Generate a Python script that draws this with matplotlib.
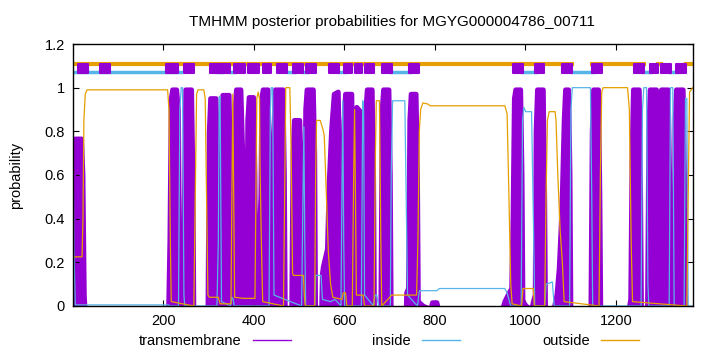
import matplotlib
matplotlib.use("Agg")
import numpy as np
import matplotlib.pyplot as plt
from matplotlib.lines import Line2D

plt.rcParams['font.family'] = ['Liberation Sans', 'DejaVu Sans']
plt.rcParams['font.size'] = 10.5

# sequence length and title
seq_len = 1370
title = "TMHMM posterior probabilities for MGYG000004786_00711"

# transmembrane posterior (position, probability)
tm_pos = [1, 3, 6, 20, 23, 26, 28,
          212, 215, 218, 221, 230, 234, 237, 239,
          245, 247, 250, 263, 266, 268,
          299, 302, 305, 317, 321, 323,
          327, 329, 332, 346, 349, 351,
          356, 359, 362, 372, 376, 378,
          384, 387, 390, 400, 403, 405,
          412, 413, 416, 418, 421, 432, 435, 437,
          443, 445, 448, 465, 468, 470,
          484, 487, 490, 502, 506, 508,
          512, 515, 518, 532, 535, 537,
          550, 552, 554, 563, 567, 572, 578, 587, 590, 592,
          597, 600, 603, 617, 620, 621, 623, 628, 636, 640, 642, 644,
          645, 648, 651, 662, 665, 667,
          681, 684, 687, 699, 702, 704,
          737, 738, 742, 745, 748, 759, 762, 764,
          790, 795, 805, 810,
          948, 955, 962, 970, 973, 976, 979, 990, 993, 995,
          1013, 1018, 1022, 1024, 1027, 1040, 1043, 1045,
          1062, 1070, 1075, 1079, 1082, 1086, 1089, 1096, 1099, 1101,
          1145, 1148, 1151, 1162, 1165, 1167,
          1228, 1233, 1236, 1239, 1252, 1255, 1257,
          1270, 1273, 1276, 1290, 1293, 1295,
          1296, 1298, 1301, 1316, 1319, 1321,
          1328, 1331, 1334, 1349, 1352, 1354, 1370]
tm_val = [0.02, 0.7, 0.765, 0.765, 0.6, 0.05, 0.0,
          0.0, 0.3, 0.95, 0.99, 0.99, 0.9, 0.05, 0.0,
          0.0, 0.5, 0.99, 0.99, 0.6, 0.0,
          0.0, 0.8, 0.95, 0.95, 0.7, 0.02,
          0.02, 0.8, 0.965, 0.965, 0.6, 0.02,
          0.0, 0.9, 0.99, 0.99, 0.7, 0.02,
          0.02, 0.85, 0.955, 0.955, 0.6, 0.02,
          0.0, 0.35, 0.5, 0.95, 0.99, 0.99, 0.7, 0.02,
          0.02, 0.8, 0.99, 0.99, 0.6, 0.0,
          0.0, 0.7, 0.85, 0.85, 0.6, 0.0,
          0.0, 0.9, 0.99, 0.99, 0.7, 0.0,
          0.0, 0.15, 0.18, 0.26, 0.57, 0.8, 0.97, 0.98, 0.7, 0.05,
          0.0, 0.85, 0.97, 0.97, 0.5, 0.45, 0.87, 0.91, 0.89, 0.8, 0.1, 0.0,
          0.0, 0.9, 0.99, 0.99, 0.6, 0.0,
          0.0, 0.9, 0.99, 0.99, 0.6, 0.0,
          0.0, 0.06, 0.08, 0.85, 0.97, 0.97, 0.6, 0.02,
          0.0, 0.015, 0.015, 0.0,
          0.0, 0.02, 0.05, 0.08, 0.4, 0.95, 0.99, 0.99, 0.6, 0.02,
          0.0, 0.02, 0.05, 0.8, 0.99, 0.99, 0.5, 0.0,
          0.0, 0.05, 0.17, 0.35, 0.52, 0.85, 0.99, 0.99, 0.6, 0.0,
          0.0, 0.8, 0.99, 0.99, 0.5, 0.0,
          0.0, 0.03, 0.7, 0.99, 0.99, 0.5, 0.0,
          0.0, 0.8, 0.99, 0.99, 0.5, 0.1,
          0.1, 0.8, 0.99, 0.99, 0.6, 0.0,
          0.0, 0.85, 0.99, 0.99, 0.6, 0.0, 0.0]

# inside posterior
in_pos = [1, 3, 6, 212, 215, 234, 237, 240, 243, 246, 248,
          319, 322, 324, 326, 329, 349, 352, 355, 357,
          434, 437, 439, 442, 445, 506, 509, 511, 513, 515,
          535, 537, 549, 552, 570, 580, 593, 595, 597, 599, 601,
          638, 641, 643, 645, 665, 668, 672, 676,
          702, 704, 707, 734, 737, 740, 762, 766, 805, 810, 955, 960, 968,
          991, 994, 997, 1001, 1014, 1018, 1021,
          1043, 1046, 1060, 1064, 1098, 1101, 1104, 1144, 1147, 1149,
          1256, 1259, 1262, 1268, 1271, 1273,
          1318, 1321, 1326, 1329, 1351, 1354, 1357, 1360, 1370]
in_val = [0.75, 0.25, 0.005, 0.005, 0.0, 0.0, 0.9, 1.0, 1.0, 0.05, 0.0,
          0.0, 0.3, 0.96, 0.96, 0.02, 0.0, 0.04, 0.03, 0.0,
          0.0, 0.9, 1.0, 1.0, 0.05, 0.0, 0.5, 0.82, 0.3, 0.0,
          0.0, 0.14, 0.14, 0.03, 0.02, 0.03, 0.0, 0.5, 0.94, 0.3, 0.0,
          0.0, 0.94, 0.9, 0.05, 0.0, 0.05, 0.05, 0.0,
          0.0, 0.6, 0.94, 0.94, 0.5, 0.05, 0.0, 0.07, 0.07, 0.08, 0.08, 0.06, 0.0,
          0.0, 0.85, 0.91, 0.89, 0.89, 0.4, 0.0,
          0.0, 0.1, 0.11, 0.0, 0.0, 0.9, 1.0, 1.0, 0.5, 0.0,
          0.0, 0.9, 1.0, 1.0, 0.1, 0.0,
          0.0, 1.0, 1.0, 0.0, 0.0, 0.95, 0.95, 0.0, 0.0]

# outside posterior
out_pos = [1, 21, 23, 25, 28, 32, 210, 213, 216, 218, 268, 271, 274, 277, 290, 293, 296, 299,
           302, 322, 326, 350, 352, 354, 356, 358, 377, 403, 405, 407, 410, 413, 414, 417, 420,
           466, 469, 471, 480, 483, 486, 488, 510, 512, 514,
           535, 537, 539, 547, 553, 556, 560, 565, 570, 575, 595, 598, 603, 606,
           618, 621, 623, 625, 627, 642, 645, 666, 669, 671, 678, 681, 683,
           705, 738, 760, 763, 766, 769, 774, 785, 790, 955, 960, 964, 968, 971,
           992, 995, 1018, 1020, 1043, 1046, 1049, 1053, 1066, 1068, 1072, 1077, 1082, 1086,
           1163, 1166, 1169, 1172, 1226, 1230, 1234, 1237, 1357, 1360, 1363, 1370]
out_val = [0.225, 0.225, 0.4, 0.85, 0.97, 0.99, 0.99, 0.9, 0.3, 0.02, 0.0, 0.5, 0.97, 0.99, 0.99, 0.95, 0.5, 0.05,
           0.04, 0.04, 0.01, 0.01, 0.5, 0.97, 0.5, 0.04, 0.035, 0.035, 0.5, 0.95, 0.98, 0.95, 0.66, 0.3, 0.02,
           0.0, 0.6, 1.0, 1.0, 0.7, 0.15, 0.14, 0.14, 0.05, 0.0,
           0.0, 0.6, 0.85, 0.85, 0.81, 0.78, 0.55, 0.25, 0.1, 0.04, 0.03, 0.06, 0.06, 0.0,
           0.0, 0.6, 0.9, 0.5, 0.05, 0.05, 0.0, 0.0, 0.7, 0.94, 0.94, 0.3, 0.0,
           0.05, 0.05, 0.05, 0.3, 0.8, 0.9, 0.93, 0.925, 0.917, 0.917, 0.88, 0.5, 0.1, 0.01,
           0.0, 0.08, 0.08, 0.0, 0.0, 0.5, 0.85, 0.89, 0.89, 0.85, 0.6, 0.35, 0.2, 0.02,
           0.0, 0.6, 0.98, 1.0, 1.0, 0.9, 0.3, 0.02, 0.0, 0.5, 0.98, 1.0]

# predicted topology band at the top
tm_boxes = [(13, 34), (60, 82), (206, 233), (246, 268), (303, 325), (326, 347), (356, 381),
            (387, 411), (421, 438), (451, 473), (488, 510), (516, 537), (567, 589), (600, 618),
            (624, 639), (645, 667), (683, 705), (744, 766), (972, 994), (1022, 1041),
            (1081, 1104), (1148, 1170), (1240, 1262), (1275, 1294), (1299, 1321), (1334, 1356)]
out_segments = [(1, 1104), (1148, 1262), (1294, 1299), (1356, 1370)]
in_segments = [(1, 240), (322, 330), (347, 357), (475, 490), (508, 517), (588, 601), (704, 745),
               (993, 1023), (1103, 1149), (1261, 1276), (1320, 1335)]

c_tm = '#9400D3'
c_in = '#56B4E9'
c_out = '#E69F00'

fig = plt.figure(figsize=(7.2, 3.52), dpi=100)
ax = fig.add_axes([0.1014, 0.1307, 0.8607, 0.7443])

# filled TM area with a thick outline; zero stretches of the outline are pushed
# just below the axis so they don't paint a purple band along the bottom
ax.fill_between(tm_pos, tm_val, 0, color=c_tm, lw=0)
tm_line = np.where(np.array(tm_val) > 0, tm_val, -0.03)
ax.plot(tm_pos, tm_line, color=c_tm, lw=3.5, solid_capstyle='round', solid_joinstyle='round')
ax.plot(in_pos, in_val, color=c_in, lw=0.9)
ax.plot(out_pos, out_val, color=c_out, lw=0.9)

for a, b in out_segments:
    ax.plot([a, b], [1.11, 1.11], color=c_out, lw=3)
for a, b in in_segments:
    ax.plot([a, b], [1.073, 1.073], color=c_in, lw=2.5)
ax.broken_barh([(a, b - a) for a, b in tm_boxes], (1.068, 0.042), color=c_tm,
               edgecolor=c_tm, lw=1.5, joinstyle='round', zorder=3)

ax.set_xlim(1, seq_len)
ax.set_ylim(0, 1.2)
ax.set_xticks([200, 400, 600, 800, 1000, 1200])
ax.set_yticks([0, 0.2, 0.4, 0.6, 0.8, 1.0, 1.2])
ax.set_yticklabels(['0', '0.2', '0.4', '0.6', '0.8', '1', '1.2'])
ax.tick_params(direction='in', top=True, right=True, length=4, width=0.8, labelsize=10.5, pad=6)
for s in ax.spines.values():
    s.set_linewidth(1.0)
    s.set_zorder(5)

ax.set_title(title, fontsize=11, pad=13, x=0.514)
ax.set_ylabel('probability', fontsize=10.5, labelpad=15)

handles = [Line2D([], [], color=c_tm, lw=1), Line2D([], [], color=c_in, lw=1),
           Line2D([], [], color=c_out, lw=1)]
fig.legend(handles, ['transmembrane', 'inside', 'outside'], loc='center',
           bbox_to_anchor=(0.54, 0.03), ncol=3, frameon=False, markerfirst=False,
           handlelength=2.6, columnspacing=5.6, handletextpad=0.8, fontsize=10.5)

fig.savefig('out.png', dpi=100)
